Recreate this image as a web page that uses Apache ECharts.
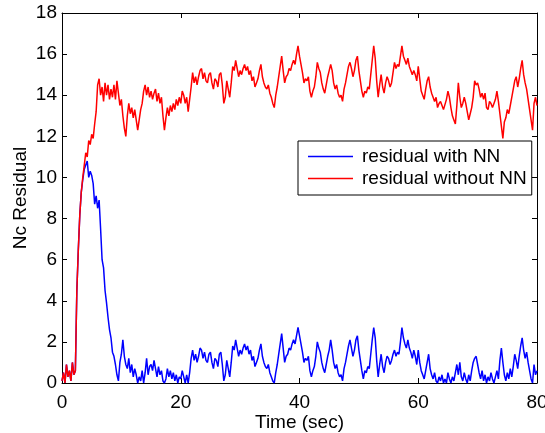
<!DOCTYPE html>
<html><head><meta charset="utf-8">
<script src="https://cdn.jsdelivr.net/npm/echarts@6/dist/echarts.min.js"></script>
<style>html,body{margin:0;padding:0;background:#fff}#c{width:545px;height:433px}</style>
</head><body><div id="c"></div>
<script>
// Sampling of the time axis (sec)
const T_START = 0, T_STEP = 0.25;
const xRange = [0, 80], xStep = 20;
const yRange = [0, 18], yStep = 2;
const seriesNames = ['residual with NN', 'residual without NN'];
const xName = 'Time (sec)';
const yName = 'Nc Residual';

// residual with NN (t = 0 .. 80 step 0.25)
const residualWithNN = [
0.1,0.5,0.0,0.9,0.3,0.6,0.1,1.0,0.4,0.6,4.5,6.5,8.2,9.3,9.9,10.4,10.6,10.8,10.0,10.3,
10.1,9.7,8.7,9.1,8.5,8.9,7.5,6.0,5.6,4.5,3.9,3.2,2.6,2.2,1.5,1.3,0.9,0.4,0.1,1.0,
1.4,2.1,1.3,0.9,0.7,1.2,0.5,0.9,0.3,0.7,0.4,0.0,0.3,0.1,0.6,0.0,0.5,1.2,0.4,0.8,
0.9,0.6,1.1,0.7,0.3,0.8,0.4,0.6,0.1,0.0,0.2,0.7,0.3,0.6,0.2,0.5,0.1,0.4,0.0,0.3,
0.2,0.6,0.3,0.0,0.4,0.0,0.5,1.2,1.6,1.1,1.4,1.0,1.3,1.7,1.6,1.2,1.5,1.1,1.0,1.4,
1.5,1.0,0.7,1.2,1.1,0.8,1.4,1.5,0.9,0.1,0.4,1.1,0.7,0.3,1.0,1.8,1.6,2.1,1.7,1.3,
1.6,1.4,1.7,1.9,1.6,1.8,1.4,1.6,1.1,1.3,0.8,1.0,1.2,1.6,1.9,1.3,1.0,0.8,0.7,0.9,
0.5,0.3,0.1,0.0,0.5,0.9,1.4,1.9,2.4,1.7,1.0,1.3,1.4,1.7,1.6,1.9,2.1,1.9,2.3,2.7,
2.3,1.9,1.5,1.0,1.2,1.1,1.3,0.6,0.3,0.6,0.8,1.3,2.0,1.7,1.5,1.0,0.7,0.5,0.9,1.3,
1.6,2.1,1.6,1.0,0.7,0.9,0.5,0.3,0.4,0.1,0.7,1.0,1.4,1.8,2.1,1.7,1.3,1.6,2.1,2.3,
1.6,1.1,0.6,0.2,0.6,0.5,0.8,0.7,1.4,2.1,2.7,2.2,1.1,0.3,0.9,1.4,0.8,0.5,1.0,1.3,
1.2,0.9,1.1,1.4,1.6,1.3,1.5,1.4,2.0,2.7,2.2,1.9,1.7,2.1,1.7,1.5,1.2,1.6,1.3,0.9,
1.6,1.0,0.6,0.4,0.2,0.6,1.0,1.4,0.7,0.4,0.2,0.5,0.1,0.0,0.3,0.1,0.4,0.0,0.2,0.0,
0.5,0.2,0.0,0.3,0.1,0.5,0.9,0.4,1.0,0.3,0.1,0.5,0.2,0.0,0.4,0.1,0.6,1.0,1.2,1.3,
0.9,0.5,0.2,0.6,0.1,0.4,0.0,0.3,0.1,0.5,0.2,0.0,0.3,0.6,0.2,1.1,1.7,1.0,0.4,0.1,
0.5,0.2,0.7,0.3,0.8,1.4,1.1,0.7,1.3,1.8,2.2,1.6,1.2,1.5,1.0,0.6,0.2,0.0,0.9,0.4,
0.6];

// residual without NN (t = 0 .. 80 step 0.25)
const residualWithoutNN = [
0.1,0.5,0.0,0.9,0.3,0.6,0.1,1.0,0.4,0.6,4.5,6.5,8.2,9.3,10.0,10.6,11.2,11.0,11.8,11.6,
12.1,11.9,12.6,13.2,14.5,14.8,14.0,14.4,13.7,14.6,14.0,14.5,13.8,14.3,13.9,14.5,13.8,14.7,14.1,13.5,
13.8,13.0,12.4,12.0,13.0,13.6,13.1,13.4,12.9,13.3,12.8,12.3,12.8,13.3,13.6,14.2,14.5,14.0,14.4,13.9,
14.2,13.8,14.1,14.3,13.7,14.1,13.6,13.9,13.0,12.3,12.9,13.4,13.0,13.5,13.2,13.6,13.3,13.8,13.5,13.9,
13.6,14.2,14.0,13.6,13.9,13.2,13.8,14.4,15.1,14.6,14.9,14.5,14.9,15.2,15.3,14.8,15.1,14.7,14.6,15.0,
15.1,14.6,14.3,14.8,14.7,14.4,15.0,15.1,14.5,13.6,13.9,14.7,14.3,13.9,14.6,15.4,15.2,15.7,15.3,14.9,
15.2,15.0,15.3,15.5,15.2,15.4,15.0,15.2,14.7,14.9,14.4,14.6,14.8,15.2,15.5,14.9,14.6,14.4,14.3,14.5,
14.1,13.9,13.6,13.4,14.0,14.4,14.9,15.4,15.9,15.2,14.6,14.9,15.0,15.3,15.2,15.5,15.7,15.5,16.0,16.4,
15.9,15.5,15.1,14.6,14.8,14.7,14.9,14.2,13.9,14.2,14.4,14.9,15.6,15.3,15.1,14.6,14.3,14.1,14.5,14.9,
15.2,15.5,15.2,14.6,14.3,14.5,14.1,13.9,14.0,13.7,14.3,14.6,15.0,15.4,15.6,15.3,14.9,15.2,15.7,15.9,
15.2,14.7,14.2,13.9,14.2,14.1,14.4,14.3,15.0,15.7,16.4,15.8,14.7,13.9,14.5,15.0,14.4,14.1,14.6,14.9,
14.7,14.4,14.6,15.1,15.6,15.3,15.5,15.4,15.9,16.4,15.9,15.7,15.5,15.8,15.4,15.2,15.0,15.2,15.0,14.7,
15.4,14.8,14.2,14.0,13.8,14.3,14.7,14.9,14.4,14.1,13.9,13.7,13.9,13.4,13.6,13.7,13.5,13.3,13.3,13.8,
14.2,13.9,13.4,13.0,12.8,12.6,13.5,14.6,13.9,13.4,13.6,13.9,13.6,13.2,12.8,13.1,13.4,13.9,14.7,14.5,
14.6,14.3,13.9,14.1,13.8,14.1,13.4,13.3,13.7,13.6,13.4,13.6,13.8,14.2,13.7,13.1,12.5,11.9,12.7,12.9,
13.3,13.1,13.5,13.9,14.3,14.7,14.9,14.4,14.8,15.3,15.7,15.0,14.6,14.3,13.8,13.3,12.8,12.3,13.6,13.9,
13.5];

const FONT = "'Liberation Sans', Arial, sans-serif";
const FS = 19;
const toPairs = arr => arr.map((v, i) => [T_START + i * T_STEP, v]);

const chart = echarts.init(document.getElementById('c'), null, {renderer: 'canvas'});
const axisCommon = {
  axisLine: {show: true, onZero: false, lineStyle: {color: '#000', width: 1}},
  axisTick: {show: true, inside: true, length: 5, lineStyle: {color: '#000'}},
  splitLine: {show: false}
};
chart.setOption({
  animation: false,
  backgroundColor: '#fff',
  grid: {left: 62, right: 8, top: 13, bottom: 50, containLabel: false, outerBoundsMode: 'none'},
  legend: {
    data: seriesNames,
    orient: 'vertical',
    left: 298, top: 141,
    icon: 'rect',
    itemWidth: 45, itemHeight: 1.5, itemGap: 1,
    padding: [5, 5, 6, 10],
    backgroundColor: '#fff',
    borderColor: '#000', borderWidth: 1, borderRadius: 0,
    textStyle: {fontFamily: FONT, fontSize: FS, color: '#000', lineHeight: 21, padding: [0, 0, 0, 4]}
  },
  xAxis: [
    Object.assign({type: 'value', min: xRange[0], max: xRange[1], interval: xStep,
      name: xName, nameLocation: 'middle', nameGap: 30, nameMoveOverlap: false,
      nameTextStyle: {fontFamily: FONT, fontSize: FS, color: '#000'},
      axisLabel: {fontFamily: FONT, fontSize: FS, color: '#000', margin: 10}}, axisCommon),
    Object.assign({type: 'value', position: 'top', min: xRange[0], max: xRange[1], interval: xStep,
      axisLabel: {show: false}}, axisCommon)
  ],
  yAxis: [
    Object.assign({type: 'value', min: yRange[0], max: yRange[1], interval: yStep,
      name: yName, nameLocation: 'middle', nameGap: 32, nameRotate: 90, nameMoveOverlap: false,
      nameTextStyle: {fontFamily: FONT, fontSize: FS, color: '#000'},
      axisLabel: {fontFamily: FONT, fontSize: FS, color: '#000', margin: 5}}, axisCommon),
    Object.assign({type: 'value', position: 'right', min: yRange[0], max: yRange[1], interval: yStep,
      axisLabel: {show: false}}, axisCommon)
  ],
  series: [
    {name: seriesNames[0], type: 'line', data: toPairs(residualWithNN), symbol: 'none',
      color: '#0000ff', lineStyle: {color: '#0000ff', width: 1.5}, z: 2},
    {name: seriesNames[1], type: 'line', data: toPairs(residualWithoutNN), symbol: 'none',
      color: '#ff0000', lineStyle: {color: '#ff0000', width: 1.5}, z: 3}
  ]
});
</script></body></html>
